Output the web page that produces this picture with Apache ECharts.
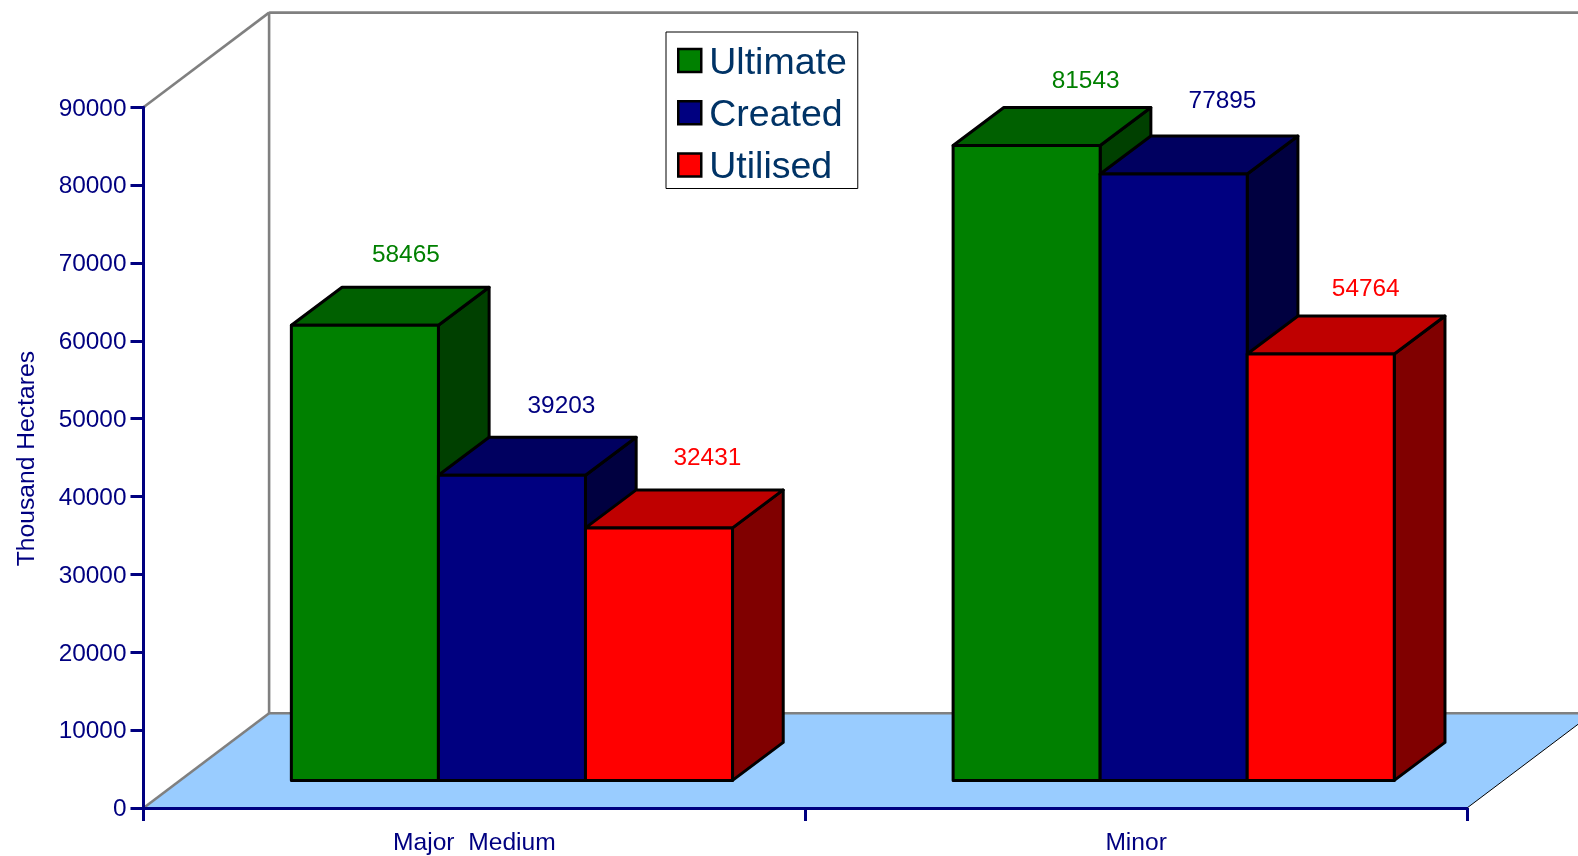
<!DOCTYPE html>
<html>
<head>
<meta charset="utf-8">
<title>Irrigation potential</title>
<style>html,body{margin:0;padding:0;background:#fff}#chart{width:1578px;height:856px}</style>
<script src="https://cdn.jsdelivr.net/npm/echarts@6/dist/echarts.min.js"></script>
</head>
<body>
<div id="chart"></div>
<script>
const categories = ['Major  Medium', 'Minor'];
const ultimate = [58465, 81543];
const created = [39203, 77895];
const utilised = [32431, 54764];

const FONT = '"Liberation Sans", Arial, sans-serif';
const NAVY = '#000080';

// Oblique projection of the floor and walls, in pixels
const DEPTH_X = 125.6;
const DEPTH_Y = 94.7;
// Bars stand part way into the floor and have their own, shallower depth
const INSET_X = 0.8;
const INSET_Y = 27.6;
const BAR_DX = 50.7;
const BAR_DY = 38;

// Hand placement of each value label, relative to the bar's front top centre
const labelShift = {
  Ultimate: [[41, -71.4], [59, -65.5]],
  Created: [[49.5, -70.4], [48.8, -74.5]],
  Utilised: [[48.4, -71], [45, -66]]
};

const palette = {
  Ultimate: { front: '#008000', top: '#006000', side: '#004000' },
  Created: { front: '#000080', top: '#000060', side: '#000040' },
  Utilised: { front: '#ff0000', top: '#bf0000', side: '#800000' }
};

function renderFloorAndWalls(params, api) {
  const o = api.coord([0, 0]);
  const band = api.size([1, 0])[0];
  const x0 = o[0] - band / 2;
  const x1 = x0 + band * categories.length;
  const y0 = o[1];
  const yTop = api.coord([0, 90000])[1];
  const bx = x0 + DEPTH_X;
  const by = y0 - DEPTH_Y;
  const grey = { stroke: '#808080', lineWidth: 2.6, fill: null };
  const seg = (a, b, c, d, style) => ({
    type: 'line', shape: { x1: a, y1: b, x2: c, y2: d }, style: style || grey
  });
  return {
    type: 'group',
    children: [
      {
        type: 'polygon',
        shape: { points: [[x0, y0], [bx, by], [x1 + DEPTH_X, by], [x1, y0]] },
        style: { fill: '#99ccff', stroke: null }
      },
      seg(x0, y0, bx, by),
      seg(x0, yTop, bx, yTop - DEPTH_Y),
      seg(bx, by, bx, yTop - DEPTH_Y),
      seg(bx, yTop - DEPTH_Y, x1 + DEPTH_X, yTop - DEPTH_Y),
      seg(bx, by, x1 + DEPTH_X, by),
      seg(x1, y0, x1 + DEPTH_X, by, { stroke: '#000', lineWidth: 1, fill: null })
    ]
  };
}

function barRenderer(name, slot) {
  const c = palette[name];
  return function (params, api) {
    const cat = api.value(0);
    const val = api.value(1);
    const center = api.coord([cat, 0]);
    const band = api.size([1, 0])[0];
    const w = band * 2 / 9;
    const left = center[0] - band / 2 + w * (1 + slot) + INSET_X;
    const right = left + w;
    const bottom = center[1] - INSET_Y;
    const top = api.coord([cat, val])[1] - INSET_Y;
    const outline = { stroke: '#000', lineWidth: 3, lineJoin: 'round' };
    const face = (pts, fill) => ({
      type: 'polygon', shape: { points: pts }, style: Object.assign({ fill }, outline)
    });
    const shift = labelShift[name][cat];
    return {
      type: 'group',
      children: [
        face([[right, bottom], [right + BAR_DX, bottom - BAR_DY], [right + BAR_DX, top - BAR_DY], [right, top]], c.side),
        face([[left, top], [left + BAR_DX, top - BAR_DY], [right + BAR_DX, top - BAR_DY], [right, top]], c.top),
        face([[left, bottom], [right, bottom], [right, top], [left, top]], c.front),
        {
          type: 'text',
          style: {
            x: left + w / 2 + shift[0],
            y: top + shift[1] + 1.5,
            text: String(val),
            fill: c.front,
            font: '24.4px ' + FONT,
            textAlign: 'center',
            textVerticalAlign: 'middle'
          }
        }
      ]
    };
  };
}

function barSeries(name, values, slot) {
  return {
    name,
    type: 'custom',
    z: 3,
    silent: true,
    renderItem: barRenderer(name, slot),
    itemStyle: { color: palette[name].front },
    encode: { x: 0, y: 1 },
    data: values.map((v, i) => [i, v])
  };
}

const chart = echarts.init(document.getElementById('chart'), null, { renderer: 'canvas' });
chart.setOption({
  animation: false,
  backgroundColor: '#fff',
  grid: { left: 143.5, top: 107.3, width: 1323.5, height: 701.2, containLabel: false },
  legend: {
    data: ['Ultimate', 'Created', 'Utilised'],
    orient: 'vertical',
    left: 666,
    top: 32,
    padding: [6.5, 11, 1.4, 11],
    itemGap: 8.3,
    itemWidth: 23,
    itemHeight: 23,
    icon: 'rect',
    itemStyle: { borderColor: '#000', borderWidth: 2.5 },
    backgroundColor: '#fff',
    borderColor: '#000',
    borderWidth: 1,
    selectedMode: false,
    formatter: '{t|{name}}',
    textStyle: {
      rich: {
        t: { color: '#003366', fontFamily: FONT, fontSize: 37.5, lineHeight: 36, padding: [6, 0, 0, 3] }
      }
    }
  },
  xAxis: {
    type: 'category',
    data: categories,
    z: 5,
    axisLine: { lineStyle: { color: NAVY, width: 3 } },
    axisTick: { show: true, alignWithLabel: false, length: 13, lineStyle: { color: NAVY, width: 3 } },
    axisLabel: { color: NAVY, fontFamily: FONT, fontSize: 24.6, margin: 23 },
    splitLine: { show: false }
  },
  yAxis: {
    type: 'value',
    min: 0,
    max: 90000,
    interval: 10000,
    z: 5,
    name: 'Thousand Hectares',
    nameLocation: 'middle',
    nameRotate: 90,
    nameGap: 104,
    nameTextStyle: { color: NAVY, fontFamily: FONT, fontSize: 24.7, padding: [0, 2, 0, 0] },
    axisLine: { show: true, lineStyle: { color: NAVY, width: 3 } },
    axisTick: { show: true, length: 13, lineStyle: { color: NAVY, width: 3 } },
    axisLabel: {
      margin: 17,
      formatter: v => '{v|' + v + '}',
      rich: { v: { color: NAVY, fontFamily: FONT, fontSize: 24.4, padding: [3, 0, 0, 0] } }
    },
    splitLine: { show: false }
  },
  series: [
    {
      name: 'walls',
      type: 'custom',
      z: 1,
      silent: true,
      renderItem: renderFloorAndWalls,
      encode: { x: 0, y: 1 },
      data: [[0, 0]]
    },
    barSeries('Ultimate', ultimate, 0),
    barSeries('Created', created, 1),
    barSeries('Utilised', utilised, 2)
  ]
});
</script>
</body>
</html>
